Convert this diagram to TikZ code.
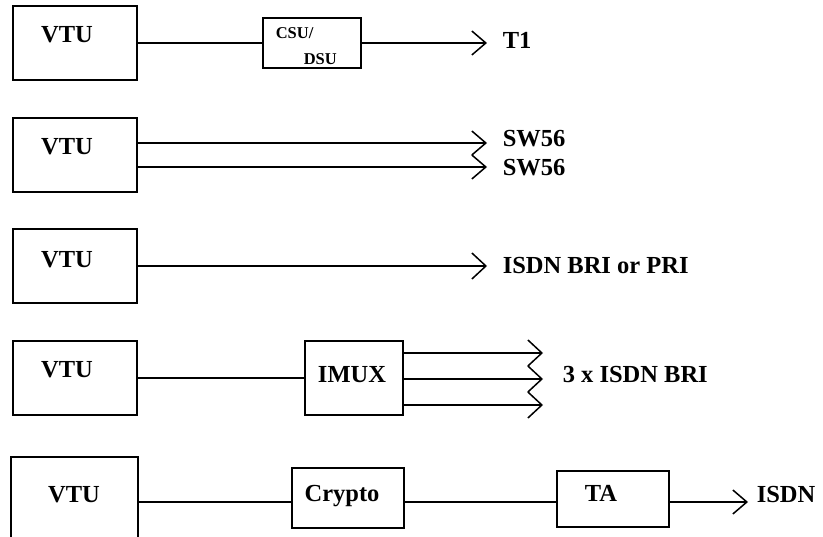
\documentclass[tikz,border=0pt]{standalone}
\usepackage{fontspec}
\setmainfont{Liberation Serif}
\usetikzlibrary{arrows.meta}

\begin{document}
\begin{tikzpicture}[
  x=1pt, y=-1pt,
  line width=1.5pt,
  unit/.style={draw, line width=1.5pt, inner sep=0pt, minimum width=#1},
  unit/.default=124pt,
  tag/.style={inner sep=0pt, anchor=base, font=\fontsize{24.5}{28}\selectfont\bfseries},
  small/.style={inner sep=0pt, anchor=base west, font=\fontsize{16.5}{19}\selectfont\bfseries},
  outlabel/.style={inner sep=0pt, anchor=base west, font=\fontsize{24.5}{28}\selectfont\bfseries},
  feed/.style={-{Straight Barb[length=14pt,width=#1]}},
  feed/.default=24pt,
  link/.style={line width=1.5pt}
]
\fill[white] (0,0) rectangle (823,537);
\clip (0,0) rectangle (823,537);

% ---- T1 via CSU/DSU ----
\node[unit, minimum height=74pt] (vtuA) at (75,43) {};
\node[tag] (vtuAt) at (67,43) {VTU};
\node[unit=98pt, minimum height=50pt] (csu) at (312,43) {};
\node[small] (csuT) at (275,39) {CSU/};
\node[small] (dsuT) at (303,65) {DSU};
\coordinate (tipA) at (487,43);
\node[outlabel] (t1) at (502,49) {T1};
\draw[link] (vtuA.east) -- (csu.west);
\draw[link, feed] (csu.east) -- (tipA);

% ---- two switched 56 lines ----
\node[unit, minimum height=74pt] (vtuB) at (75,155) {};
\node[tag] (vtuBt) at (67,155) {VTU};
\coordinate (tipB1) at (487,143);
\coordinate (tipB2) at (487,167);
\node[outlabel] (sw1) at (502,147) {SW56};
\node[outlabel] (sw2) at (502,176) {SW56};
\draw[link, feed] (vtuB.east |- tipB1) -- (tipB1);
\draw[link, feed] (vtuB.east |- tipB2) -- (tipB2);

% ---- direct ISDN ----
\node[unit, minimum height=74pt] (vtuC) at (75,266) {};
\node[tag] (vtuCt) at (67,268) {VTU};
\coordinate (tipC) at (487,266);
\node[outlabel] (isdnC) at (502,274) {ISDN BRI or PRI};
\draw[link, feed=26pt] (vtuC.east) -- (tipC);

% ---- inverse multiplexer ----
\node[unit, minimum height=74pt] (vtuD) at (75,378) {};
\node[tag] (vtuDt) at (67,378) {VTU};
\node[unit=98pt, minimum height=74pt] (imux) at (354,378) {};
\node[tag] (imuxT) at (352,383) {IMUX};
\coordinate (tipD1) at (543,353);
\coordinate (tipD2) at (543,379);
\coordinate (tipD3) at (543,405);
\node[outlabel] (briD) at (562,383) {3 x ISDN BRI};
\draw[link] (vtuD.east) -- (imux.west);
\draw[link, feed=26pt] (imux.east |- tipD1) -- (tipD1);
\draw[link, feed=26pt] (imux.east |- tipD2) -- (tipD2);
\draw[link, feed=26pt] (imux.east |- tipD3) -- (tipD3);

% ---- crypto and terminal adapter ----
\coordinate (levelE) at (0,502);
\node[unit=127pt, minimum height=104pt] (vtuE) at (74.5,509) {};
\node[tag] (vtuEt) at (74,503) {VTU};
\node[unit=112pt, minimum height=60pt] (crypto) at (348,498) {};
\node[tag] (cryptoT) at (342,502) {Crypto};
\node[unit=112pt, minimum height=56pt] (ta) at (613,499) {};
\node[tag] (taT) at (601,502) {TA};
\coordinate (tipE) at (748,502);
\node[outlabel] (isdnE) at (756,503) {ISDN};
\draw[link] (vtuE.east |- levelE) -- (crypto.west |- levelE);
\draw[link] (crypto.east |- levelE) -- (ta.west |- levelE);
\draw[link, feed] (ta.east |- levelE) -- (tipE);
\end{tikzpicture}
\end{document}
